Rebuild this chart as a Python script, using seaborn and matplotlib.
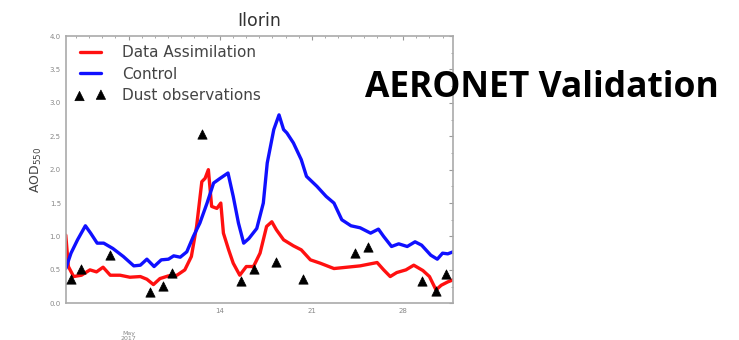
import matplotlib
matplotlib.use("Agg")
import matplotlib.pyplot as plt
import numpy as np
import pandas as pd
import seaborn as sns
from matplotlib.ticker import MultipleLocator, FixedLocator

""" Data read from the figure (day of May 2017, AOD at 550 nm) """
control_day = [2.2, 2.6, 3.1, 3.7, 4.1, 4.6, 5.1, 5.8, 6.6, 7.4, 7.9, 8.4, 8.95,
               9.5, 10.05, 10.45, 10.95, 11.45, 11.95, 12.45, 13.0, 13.5, 14.0,
               14.6, 15.0, 15.4, 15.8, 16.2, 16.8, 17.3, 17.6, 18.1, 18.5, 18.85,
               19.1, 19.6, 20.2, 20.6, 21.4, 22.1, 22.7, 23.3, 24.0, 24.7, 25.5,
               26.1, 26.5, 27.1, 27.65, 28.3, 28.9, 29.4, 30.1, 30.6, 31.0, 31.4,
               31.8]
control_aod = [0.52, 0.75, 0.95, 1.16, 1.05, 0.9, 0.9, 0.82, 0.7, 0.56, 0.57,
               0.66, 0.55, 0.65, 0.66, 0.71, 0.69, 0.77, 1.0, 1.2, 1.5, 1.8, 1.87,
               1.95, 1.6, 1.2, 0.9, 0.97, 1.12, 1.5, 2.1, 2.6, 2.82, 2.6, 2.55,
               2.4, 2.15, 1.9, 1.75, 1.6, 1.5, 1.25, 1.16, 1.13, 1.05, 1.11, 1.0,
               0.85, 0.89, 0.85, 0.92, 0.87, 0.72, 0.66, 0.75, 0.74, 0.77]

assim_day = [2.2, 2.4, 2.8, 3.4, 4.05, 4.55, 5.05, 5.6, 6.35, 7.1, 7.9, 8.4,
             8.9, 9.4, 10.05, 10.7, 11.3, 11.8, 12.2, 12.6, 12.85, 13.1, 13.35,
             13.75, 14.05, 14.25, 14.65, 15.0, 15.5, 16.0, 16.55, 17.05, 17.55,
             17.95, 18.3, 18.85, 19.6, 20.2, 20.9, 21.65, 22.7, 23.7, 24.7, 26.0,
             26.5, 27.0, 27.5, 28.2, 28.8, 29.5, 30.0, 30.5, 30.9, 31.4, 31.8]
assim_aod = [1.02, 0.55, 0.4, 0.42, 0.5, 0.47, 0.54, 0.42, 0.42, 0.39, 0.4,
             0.36, 0.28, 0.37, 0.41, 0.42, 0.5, 0.7, 1.15, 1.82, 1.87, 2.0, 1.45,
             1.42, 1.5, 1.05, 0.8, 0.6, 0.42, 0.55, 0.55, 0.75, 1.15, 1.22, 1.1,
             0.95, 0.86, 0.8, 0.65, 0.6, 0.52, 0.54, 0.56, 0.61, 0.5, 0.4, 0.46,
             0.5, 0.57, 0.49, 0.4, 0.2, 0.27, 0.32, 0.35]

obs_day = [2.6, 3.35, 5.6, 8.65, 9.6, 10.35, 12.6, 15.6, 16.6, 18.3, 20.3,
           24.3, 25.3, 29.4, 30.5, 31.25]
obs_aod = [0.37, 0.52, 0.72, 0.17, 0.26, 0.45, 2.54, 0.33, 0.51, 0.62, 0.37,
           0.75, 0.84, 0.34, 0.19, 0.44]

x_major = [7, 14, 21, 28]
x_labels = ["", "14", "21", "28"]

""" Figure """
sns.set_style("white")
plt.rcParams["font.family"] = ["DejaVu Sans"]

fig = plt.figure(figsize=(7.39, 3.4), dpi=100)
ax = fig.add_axes([0.089, 0.108, 0.524, 0.786])

control = pd.DataFrame({"day": control_day, "aod": control_aod})
assim = pd.DataFrame({"day": assim_day, "aod": assim_aod})
obs = pd.DataFrame({"day": obs_day, "aod": obs_aod})

sns.lineplot(data=assim, x="day", y="aod", color="#ff1010", lw=2.4,
             label="Data Assimilation", ax=ax)
sns.lineplot(data=control, x="day", y="aod", color="#1010ff", lw=2.4,
             label="Control", ax=ax)
sns.scatterplot(data=obs, x="day", y="aod", marker="^", color="black", s=45,
                edgecolor="black", linewidth=0.5, label="Dust observations",
                ax=ax, zorder=5)

ax.set(xlim=(2.2, 31.8), ylim=(0, 4.0), xlabel="", ylabel="")
ax.set_title("Ilorin", fontsize=12.5, color="#333333", pad=7,
             fontweight="medium")
ax.set_ylabel("AOD$_{550}$", fontsize=9, color="#444444", labelpad=4)

ax.xaxis.set_major_locator(FixedLocator(x_major))
ax.set_xticklabels(x_labels)
ax.xaxis.set_minor_locator(MultipleLocator(1))
ax.yaxis.set_major_locator(MultipleLocator(0.5))
ax.yaxis.set_minor_locator(MultipleLocator(0.25))
ax.tick_params(which="both", direction="in", top=True, right=True,
               colors="#999999", labelsize=5, labelcolor="#888888")
ax.tick_params(which="major", length=3, width=0.8)
ax.tick_params(which="minor", length=1.5, width=0.6)
for spine in ax.spines.values():
    spine.set_color("#aaaaaa")
    spine.set_linewidth(1.2)

ax.text(7, -0.42, "May\n2017", fontsize=4.5, color="#888888",
        ha="center", va="top", linespacing=0.9)

leg = ax.legend(loc="upper left", frameon=False, fontsize=11, numpoints=2,
                scatterpoints=2, handlelength=2.0, handletextpad=1.1,
                borderaxespad=0.2, labelspacing=0.42)
for t in leg.get_texts():
    t.set_color("#444444")

fig.text(0.494, 0.74, "AERONET Validation", fontsize=25.5, fontweight="bold",
         family=["Open Sans", "DejaVu Sans"], color="black", ha="left",
         va="center")

fig.savefig("out.png", dpi=100)
